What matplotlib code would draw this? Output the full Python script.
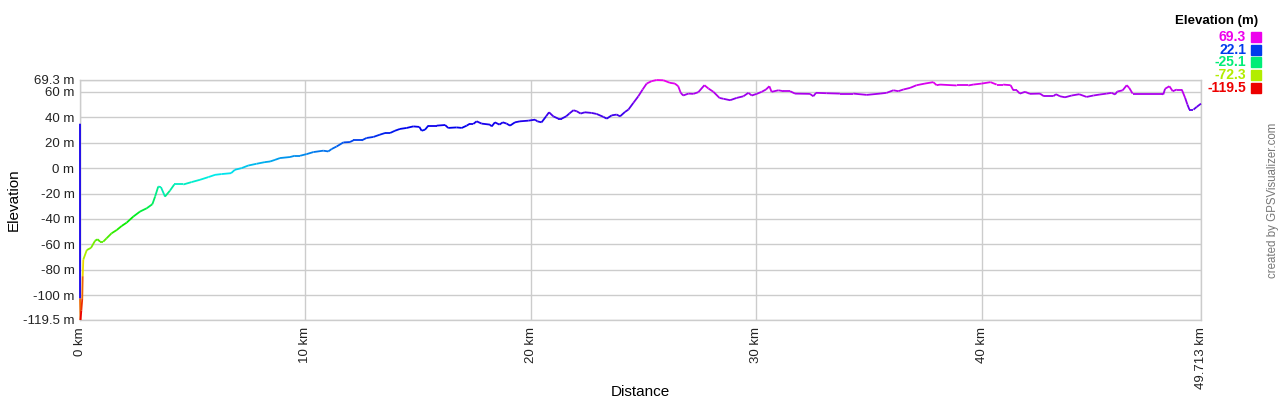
import matplotlib
matplotlib.use("Agg")
import matplotlib.pyplot as plt
import numpy as np
from matplotlib.collections import LineCollection
from matplotlib.colors import hsv_to_rgb

plt.rcParams['font.family'] = ['Liberation Sans', 'DejaVu Sans']

# track profile: distance (km), elevation (m)
dist_km = [0.0, 0.001, 0.02, 0.06, 0.10, 0.12, 0.146, 0.30, 0.49, 0.67, 0.78, 0.89,
           1.03, 1.18, 1.40, 1.63, 1.85, 2.07, 2.36, 2.66, 2.96, 3.21, 3.33, 3.47,
           3.59, 3.77, 3.99, 4.18, 4.58, 4.95, 5.32, 5.69, 5.99, 6.28, 6.70, 6.87,
           7.17, 7.46, 7.83, 8.20, 8.43, 8.65, 8.87, 9.31, 9.53, 9.76, 10.05, 10.35,
           10.79, 11.01, 11.16, 11.38, 11.68, 11.97, 12.12, 12.49, 12.71, 13.01, 13.30,
           13.53, 13.75, 13.97, 14.19, 14.49, 14.78, 15.05, 15.15, 15.30, 15.45, 15.82,
           16.19, 16.33, 16.70, 16.93, 17.15, 17.27, 17.44, 17.59, 17.81, 18.18, 18.26,
           18.40, 18.60, 18.75, 18.92, 19.07, 19.29, 19.51, 19.88, 20.18, 20.28, 20.47,
           20.67, 20.80, 20.99, 21.21, 21.36, 21.56, 21.70, 21.88, 22.03, 22.20, 22.39,
           22.69, 22.91, 23.21, 23.36, 23.58, 23.80, 23.95, 24.17, 24.32, 24.54, 24.76,
           24.95, 25.13, 25.35, 25.57, 25.87, 26.16, 26.38, 26.53, 26.64, 26.75, 26.98,
           27.20, 27.42, 27.69, 27.87, 28.09, 28.36, 28.54, 28.83, 29.12, 29.42, 29.64,
           29.79, 30.01, 30.23, 30.42, 30.57, 30.67, 30.97, 31.19, 31.49, 31.71, 32.37,
           32.52, 32.64, 33.11, 33.70, 34.29, 34.89, 35.48, 35.77, 36.07, 36.29, 36.51,
           36.81, 37.10, 37.47, 37.84, 37.99, 38.14, 38.88, 39.39, 39.61, 39.99, 40.38,
           40.65, 40.94, 41.27, 41.39, 41.54, 41.68, 41.91, 42.13, 42.57, 42.75, 43.16,
           43.28, 43.46, 43.68, 43.98, 44.31, 44.64, 44.94, 45.23, 45.53, 45.75, 45.90,
           46.00, 46.24, 46.42, 46.53, 46.68, 47.00, 47.97, 48.04, 48.12, 48.31, 48.46,
           48.64, 48.86, 49.01, 49.11, 49.20, 49.38, 49.52, 49.713]
elev_m = [34.9, -102.6, -119.5, -112.0, -103.0, -85.0, -72.0, -64.5, -62.7, -57.1, -56.0, -57.9,
          -57.9, -55.2, -51.3, -48.7, -45.5, -42.9, -38.2, -34.2, -31.6, -28.4, -22.4, -14.5,
          -15.0, -22.4, -17.7, -12.9, -12.9, -11.0, -9.2, -7.1, -5.3, -4.7, -4.0, -1.3,
          0.0, 2.0, 3.4, 4.7, 5.2, 6.5, 7.9, 8.7, 9.7, 9.7, 11.0, 12.6,
          13.7, 13.1, 15.0, 17.0, 20.2, 20.5, 21.8, 21.8, 23.7, 24.5, 26.3,
          27.6, 27.6, 29.4, 30.8, 31.6, 32.8, 32.4, 29.4, 30.2, 33.4, 33.4,
          33.9, 31.6, 32.0, 31.6, 33.4, 34.7, 34.7, 36.8, 35.0, 34.2, 32.8,
          36.0, 34.2, 36.0, 35.0, 33.4, 36.0, 36.8, 37.3, 38.1, 36.8, 36.0,
          40.7, 43.9, 40.7, 38.9, 38.9, 40.7, 42.9, 45.5, 44.7, 42.9, 43.9,
          43.4, 42.6, 40.3, 38.9, 41.5, 42.1, 40.7, 44.2, 46.0, 51.3, 56.5,
          61.8, 66.5, 68.4, 69.3, 69.1, 67.1, 66.5, 64.4, 59.2, 57.1, 58.6,
          58.4, 59.7, 65.2, 62.6, 60.0, 55.2, 54.5, 53.4, 55.2, 56.5, 59.2,
          57.1, 58.4, 60.0, 61.8, 64.4, 60.0, 61.2, 60.5, 60.5, 58.6, 58.4,
          56.5, 59.2, 58.9, 58.6, 58.6, 57.6, 58.6, 59.2, 61.2, 60.5, 61.8,
          63.1, 65.2, 66.5, 67.6, 65.2, 65.7, 65.0, 65.0, 65.7, 66.5, 67.6,
          65.7, 65.7, 65.2, 61.2, 61.2, 58.6, 60.0, 58.4, 58.6, 56.5, 56.5,
          58.1, 56.5, 55.7, 57.1, 58.1, 56.0, 57.1, 57.9, 58.6, 59.2, 57.9,
          60.2, 61.2, 65.2, 63.1, 58.6, 58.6, 58.6, 57.9, 62.4, 64.4, 60.5,
          61.8, 61.8, 55.2, 50.0, 46.0, 46.0, 48.1, 50.7]

elev_min, elev_max = -119.5, 69.3
y_ticks = [-119.5, -100, -80, -60, -40, -20, 0, 20, 40, 60, 69.3]
x_ticks = [0, 10, 20, 30, 40, 49.713]
legend_vals = [69.3, 22.1, -25.1, -72.3, -119.5]


def elev_color(e):
    hue = (e - elev_min) / (elev_max - elev_min) * 300.0 / 360.0
    return hsv_to_rgb([min(max(hue, 0), 300 / 360), 1.0, 0.93])


fig = plt.figure(figsize=(12.8, 4.0), dpi=100)
ax = fig.add_axes([80 / 1280, 80 / 400, 1121 / 1280, 240 / 400])

pts = np.column_stack([dist_km, elev_m])
segs = np.stack([pts[:-1], pts[1:]], axis=1)
seg_colors = [elev_color(e) for e in elev_m[:-1]]
lc = LineCollection(segs, colors=seg_colors, linewidths=1.3, capstyle="butt",
                    zorder=3, clip_on=False)
ax.add_collection(lc)

ax.set_xlim(0, x_ticks[-1])
ax.set_ylim(elev_min, elev_max)

ax.set_yticks(y_ticks)
ax.set_yticklabels([f"{v:g} m" for v in y_ticks])
ax.set_xticks(x_ticks)
ax.set_xticklabels([f"{v:g} km" for v in x_ticks], rotation=90)
ax.tick_params(length=0, labelsize=9.5, colors="#222222", pad=4)
ax.tick_params(axis="x", pad=5)

ax.grid(True, color="#cccccc", linewidth=1)
ax.set_axisbelow(True)
for s in ax.spines.values():
    s.set_color("#cccccc")
    s.set_linewidth(1)

fig.text(14 / 1280, 1 - 200 / 400, "Elevation", fontsize=11, rotation=90,
         ha="center", va="center")
fig.text(640 / 1280, 1 - 392 / 400, "Distance", fontsize=11, ha="center", va="center")

# legend block
fig.text(1258 / 1280, 1 - 21 / 400, "Elevation (m)", fontsize=9.5, fontweight="bold",
         ha="right", va="center")
for i, v in enumerate(legend_vals):
    y = 1 - (37 + i * 12.7) / 400
    c = elev_color(v)
    fig.text(1246 / 1280, y, f"{v:g}", fontsize=10, fontweight="bold", color=c,
             ha="right", va="center")
    fig.patches.append(plt.Rectangle((1251 / 1280, y - 5 / 400), 10 / 1280, 10 / 400,
                                     transform=fig.transFigure, color=c, figure=fig))

fig.text(1273 / 1280, 1 - 200 / 400, "created by GPSVisualizer.com", fontsize=8.3,
         color="#777777", rotation=90, ha="center", va="center")

fig.savefig("out.png", dpi=100)
